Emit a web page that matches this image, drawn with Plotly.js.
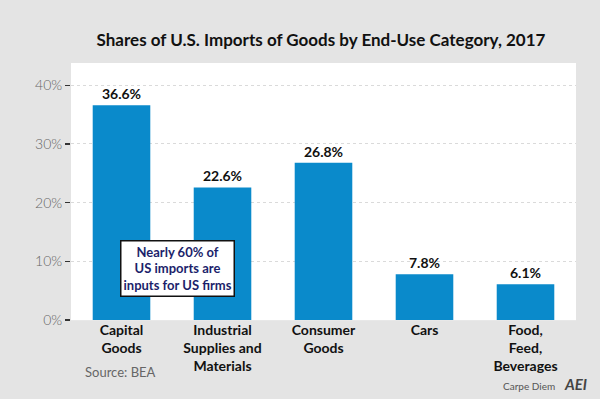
<!DOCTYPE html>
<html><head><meta charset="utf-8">
<script src="https://cdn.plot.ly/plotly-3.0.1.min.js"></script>
<style>html,body{margin:0;padding:0;background:#e4e4e4;}#c{width:600px;height:399px;}</style>
</head><body><div id="c"></div>
<script>
const categories = ["Capital<br>Goods", "Industrial<br>Supplies and<br>Materials", "Consumer<br>Goods", "Cars", "Food,<br>Feed,<br>Beverages"];
const shares = [36.6, 22.6, 26.8, 7.8, 6.1];
const valueLabels = ["36.6%", "22.6%", "26.8%", "7.8%", "6.1%"];
const yTicks = [0, 10, 20, 30, 40];
const yTickText = ["0%", "10%", "20%", "30%", "40%"];

// plot area in pixels: left 71, right 576, top 63, bottom 320
const PL = 71, PR = 576, PT = 63, PB = 320;
const px = v => (v - PL) / (PR - PL);
const py = v => (PB - v) / (PB - PT);

const trace = {
  type: "bar", x: categories, y: shares,
  text: valueLabels, textposition: "outside", cliponaxis: false,
  textfont: {family: "Lato, sans-serif", size: 14, color: "#111", weight: 700},
  marker: {color: "#0a8acb"}, hoverinfo: "none"
};
const layout = {
  width: 600, height: 399,
  paper_bgcolor: "#e4e4e4", plot_bgcolor: "#ffffff",
  margin: {l: PL, r: 600 - PR, t: PT, b: 399 - PB},
  bargap: 0.43, showlegend: false,
  title: {text: "<b>Shares of U.S. Imports of Goods by End-Use Category, 2017</b>",
    font: {family: "Lato, sans-serif", size: 17, color: "#111"}, x: 0.535, xanchor: "center", y: 0.9, yanchor: "middle"},
  xaxis: {tickfont: {family: "Lato, sans-serif", size: 14, color: "#111", weight: 700},
    showline: false, ticks: "", fixedrange: true},
  yaxis: {range: [0, 43.8], tickvals: yTicks, ticktext: yTickText,
    tickfont: {family: "Lato, sans-serif", size: 14, color: "#666", weight: 300},
    ticks: "outside", ticklen: 5, tickwidth: 1.5, tickcolor: "#333",
    showgrid: true, gridcolor: "#dadada", griddash: "dot", gridwidth: 1,
    zeroline: true, zerolinecolor: "#e8e8e8", zerolinewidth: 1, fixedrange: true},
  annotations: [
    {x: 0.55, y: 8.7, xref: "x", yref: "y", showarrow: false,
     text: "<b>Nearly 60% of<br>US imports are<br>inputs for US firms</b>",
     font: {family: "Lato, sans-serif", size: 13, color: "#1c1f6b"},
     bgcolor: "#ffffff", bordercolor: "#111", borderwidth: 1.5, borderpad: 2, align: "center"},
    {x: px(83), y: py(372), xref: "paper", yref: "paper", xanchor: "left", yanchor: "middle",
     showarrow: false, text: "Source: BEA",
     font: {family: "Lato, sans-serif", size: 13, color: "#666"}},
    {x: px(557), y: py(386), xref: "paper", yref: "paper", xanchor: "right", yanchor: "middle",
     showarrow: false, text: "Carpe Diem",
     font: {family: "Lato, sans-serif", size: 10, color: "#555"}},
    {x: px(589), y: py(384), xref: "paper", yref: "paper", xanchor: "right", yanchor: "middle",
     showarrow: false, text: "<b><i>AEI</i></b>",
     font: {family: "Lato, sans-serif", size: 15, color: "#444"}}
  ]
};
Plotly.newPlot("c", [trace], layout, {displayModeBar: false, staticPlot: true});
</script></body></html>
